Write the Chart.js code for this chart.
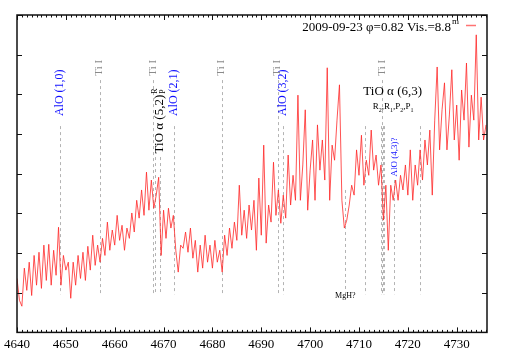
<!DOCTYPE html>
<html>
<head>
<meta charset="utf-8">
<script src="https://cdn.jsdelivr.net/npm/chart.js@4"></script>
<style>
  html, body { margin: 0; padding: 0; background: #fff; }
</style>
</head>
<body>
<canvas id="chart" width="509" height="356"></canvas>
<script>
// wavelength grid (Angstrom) and relative flux
const wavelengths = [
  4640, 4640.5, 4641, 4641.5, 4642, 4642.5, 4643, 4643.5, 4644, 4644.5,
  4645, 4645.5, 4646, 4646.5, 4647, 4647.5, 4648, 4648.5, 4649, 4649.5,
  4650, 4650.5, 4651, 4651.5, 4652, 4652.5, 4653, 4653.5, 4654, 4654.5,
  4655, 4655.5, 4656, 4656.5, 4657, 4657.5, 4658, 4658.5, 4659, 4659.5,
  4660, 4660.5, 4661, 4661.5, 4662, 4662.5, 4663, 4663.5, 4664, 4664.5,
  4665, 4665.5, 4666, 4666.5, 4667, 4667.5, 4668, 4668.5, 4669, 4669.5,
  4670, 4670.5, 4671, 4671.5, 4672, 4672.5, 4673, 4673.5, 4674, 4674.5,
  4675, 4675.5, 4676, 4676.5, 4677, 4677.5, 4678, 4678.5, 4679, 4679.5,
  4680, 4680.5, 4681, 4681.5, 4682, 4682.5, 4683, 4683.5, 4684, 4684.5,
  4685, 4685.5, 4686, 4686.5, 4687, 4687.5, 4688, 4688.5, 4689, 4689.5,
  4690, 4690.5, 4691, 4691.5, 4692, 4692.5, 4693, 4693.5, 4694, 4694.5,
  4695, 4695.5, 4696, 4696.5, 4697, 4697.5, 4698, 4698.5, 4699, 4699.5,
  4700, 4700.5, 4701, 4701.5, 4702, 4702.5, 4703, 4703.5, 4704, 4704.5,
  4705, 4705.5, 4706, 4706.5, 4707, 4707.5, 4708, 4708.5, 4709, 4709.5,
  4710, 4710.5, 4711, 4711.5, 4712, 4712.5, 4713, 4713.5, 4714, 4714.5,
  4715, 4715.5, 4716, 4716.5, 4717, 4717.5, 4718, 4718.5, 4719, 4719.5,
  4720, 4720.5, 4721, 4721.5, 4722, 4722.5, 4723, 4723.5, 4724, 4724.5,
  4725, 4725.5, 4726, 4726.5, 4727, 4727.5, 4728, 4728.5, 4729, 4729.5,
  4730, 4730.5, 4731, 4731.5, 4732, 4732.5, 4733, 4733.5, 4734, 4734.5,
  4735, 4735.5, 4736
];
const flux = [
  1.36, 0.81, 0.66, 1.62, 1.06, 1.77, 0.93, 1.94, 1.19, 2.02,
  1.11, 2.20, 1.31, 2.22, 1.19, 2.07, 1.44, 2.65, 1.19, 1.94,
  1.57, 1.77, 0.86, 1.77, 1.19, 1.94, 1.36, 2.02, 1.31, 2.17,
  1.57, 2.45, 1.69, 2.20, 1.77, 2.37, 1.94, 2.78, 2.07, 2.58,
  2.20, 2.95, 2.32, 2.70, 2.07, 2.63, 2.37, 3.01, 2.53, 3.33,
  2.88, 3.59, 2.95, 4.04, 3.08, 3.84, 3.13, 3.46, 3.91, 1.94,
  3.08, 2.37, 3.13, 2.63, 2.95, 2.07, 1.52, 2.20, 2.12, 2.53,
  2.02, 2.63, 1.87, 2.32, 1.52, 2.20, 1.62, 2.45, 1.77, 2.20,
  1.62, 2.32, 1.77, 2.07, 1.52, 2.45, 1.94, 2.63, 2.12, 2.78,
  2.32, 3.71, 2.45, 3.08, 2.37, 3.21, 2.58, 3.33, 2.07, 3.89,
  2.45, 4.72, 2.25, 3.21, 2.78, 4.29, 2.95, 3.59, 2.75, 3.46,
  2.88, 4.47, 3.21, 3.96, 3.33, 5.98, 3.33, 4.22, 5.61, 3.08,
  4.09, 4.85, 3.33, 5.23, 4.09, 4.85, 3.84, 6.67, 3.33, 4.72,
  4.34, 5.35, 6.24, 3.33, 2.63, 2.83, 3.21, 3.71, 3.46, 4.60,
  3.96, 4.97, 3.71, 4.34, 3.96, 5.10, 4.09, 4.47, 3.71, 4.22,
  2.83, 3.71, 2.07, 3.71, 3.33, 3.84, 3.33, 3.96, 3.59, 4.22,
  3.46, 4.60, 3.33, 4.22, 3.71, 4.60, 3.84, 4.85, 4.22, 5.10,
  3.46, 5.35, 6.69, 4.60, 5.61, 6.29, 4.60, 5.48, 6.62, 4.85,
  5.73, 4.34, 6.11, 5.35, 6.79, 4.67, 5.98, 5.35, 7.50, 4.85,
  5.93, 4.85, 5.23
];
const xTicks = [4640, 4650, 4660, 4670, 4680, 4690, 4700, 4710, 4720, 4730];
const yTicks = [0, 1, 2, 3, 4, 5, 6, 7, 8];
const seriesLabel = '2009-09-23 φ=0.82 Vis.=8.8';

// line identifications: wavelength and top of the marker (flux units)
const lineWaves = [4648.8, 4656.9, 4667.9, 4668.3, 4669.3, 4672.2, 4681.9, 4693.5, 4694.5,
                   4707.2, 4711.3, 4714.5, 4714.7, 4714.9, 4715.1, 4717.2, 4722.5];
const lineTops  = [5.2, 6.36, 6.36, 4.42, 4.42, 5.2, 6.36, 6.36, 5.2,
                   3.59, 5.2, 5.2, 6.36, 5.2, 5.2, 3.84, 5.2];
const lineBottom = 0.96;

const serif = '"Liberation Serif", "DejaVu Serif", serif';
const blue = '#1010ff';
const grey = '#8a8a8a';

// labels: text, wavelength, flux level of centre, rotated?, colour, size
const idLabels = [
  { text: 'AlO (1,0)', wave: 4648.8, level: 6.04, rot: true, color: blue, size: 12 },
  { text: 'AlO (2,1)', wave: 4672.2, level: 6.04, rot: true, color: blue, size: 12 },
  { text: 'AlO (3,2)', wave: 4694.4, level: 6.04, rot: true, color: blue, size: 12 },
  { text: 'Ti I', wave: 4656.8, level: 6.67, rot: true, color: grey, size: 11 },
  { text: 'Ti I', wave: 4667.8, level: 6.67, rot: true, color: grey, size: 11 },
  { text: 'Ti I', wave: 4681.8, level: 6.67, rot: true, color: grey, size: 11 },
  { text: 'Ti I', wave: 4693.2, level: 6.67, rot: true, color: grey, size: 11 },
  { text: 'Ti I', wave: 4714.7, level: 6.67, rot: true, color: grey, size: 11 },
  { text: 'AlO (4,3)?', wave: 4717.2, level: 4.42, rot: true, color: blue, size: 9 },
  { text: 'TiO α (6,3)', wave: 4716.9, level: 6.06, rot: false, color: '#000', size: 13 },
  { text: 'MgH?', wave: 4707.2, level: 0.93, rot: false, color: '#000', size: 8 }
];

function drawParts(ctx, parts, x, y) {
  // parts: [text, size, dy]; drawn left to right, centred on x
  let total = 0;
  parts.forEach(p => { ctx.font = p[1] + 'px ' + serif; total += ctx.measureText(p[0]).width; });
  let cx = x - total / 2;
  parts.forEach(p => {
    ctx.font = p[1] + 'px ' + serif;
    ctx.fillText(p[0], cx, y + p[2]);
    cx += ctx.measureText(p[0]).width;
  });
}

const spectrumFrame = {
  id: 'spectrumFrame',
  beforeDatasetsDraw(chart) {
    const { ctx, scales: { x, y } } = chart;
    ctx.save();
    ctx.strokeStyle = '#b4b4b4';
    ctx.lineWidth = 1;
    ctx.setLineDash([3, 3]);
    lineWaves.forEach((w, i) => {
      const px = Math.round(x.getPixelForValue(w)) + 0.5;
      ctx.beginPath();
      ctx.moveTo(px, y.getPixelForValue(lineTops[i]));
      ctx.lineTo(px, y.getPixelForValue(lineBottom));
      ctx.stroke();
    });
    ctx.setLineDash([]);
    ctx.textBaseline = 'middle';
    ctx.textAlign = 'center';
    idLabels.forEach(l => {
      const px = x.getPixelForValue(l.wave);
      const py = y.getPixelForValue(l.level);
      ctx.fillStyle = l.color;
      ctx.font = l.size + 'px ' + serif;
      if (l.rot) {
        ctx.save();
        ctx.translate(px, py);
        ctx.rotate(-Math.PI / 2);
        ctx.fillText(l.text, 0, 0);
        ctx.restore();
      } else {
        ctx.fillText(l.text, px, py);
      }
    });

    // TiO alpha (5,2) with R / P branches
    ctx.fillStyle = '#000';
    ctx.save();
    ctx.translate(x.getPixelForValue(4669.1), y.getPixelForValue(5.25));
    ctx.rotate(-Math.PI / 2);
    ctx.font = '13px ' + serif;
    const w52 = ctx.measureText('TiO α (5,2)').width;
    ctx.fillText('TiO α (5,2)', 0, 0);
    ctx.textAlign = 'left';
    ctx.font = '8px ' + serif;
    ctx.fillText('R', w52 / 2 + 1, -4);
    ctx.fillText('P', w52 / 2 + 1, 4);
    ctx.restore();

    // branches under TiO alpha (6,3)
    ctx.textAlign = 'left';
    drawParts(ctx, [['R', 9, 0], ['2', 6, 3], [',R', 9, 0], ['1', 6, 3], [',P', 9, 0], ['2', 6, 3], [',P', 9, 0], ['1', 6, 3]],
      x.getPixelForValue(4717.0), y.getPixelForValue(5.68));
    ctx.restore();
  },
  afterDraw(chart) {
    const { ctx, chartArea: a, scales: { x, y } } = chart;
    ctx.save();
    ctx.strokeStyle = '#111';
    ctx.lineWidth = 1;
    // minor and major ticks, pointing inward on both sides
    ctx.beginPath();
    for (let v = 4640; v <= 4736; v += 1) {
      const px = Math.round(x.getPixelForValue(v)) + 0.5;
      const len = xTicks.includes(v) ? 5 : 2.5;
      ctx.moveTo(px, a.bottom); ctx.lineTo(px, a.bottom - len);
      ctx.moveTo(px, a.top); ctx.lineTo(px, a.top + len);
    }
    yTicks.forEach(v => {
      const py = Math.round(y.getPixelForValue(v)) + 0.5;
      ctx.moveTo(a.left, py); ctx.lineTo(a.left + 5, py);
      ctx.moveTo(a.right, py); ctx.lineTo(a.right - 5, py);
    });
    ctx.stroke();
    ctx.lineWidth = 1.5;
    ctx.strokeRect(a.left, a.top, a.right - a.left, a.bottom - a.top);

    // key
    ctx.fillStyle = '#000';
    ctx.textBaseline = 'alphabetic';
    ctx.textAlign = 'right';
    ctx.font = '13px ' + serif;
    ctx.fillText(seriesLabel, 451, 31);
    ctx.textAlign = 'left';
    ctx.font = '9px ' + serif;
    ctx.fillText('m', 452, 24);
    ctx.strokeStyle = 'rgba(255,80,80,0.8)';
    ctx.beginPath();
    ctx.moveTo(466, 25.5); ctx.lineTo(476, 25.5);
    ctx.stroke();
    ctx.restore();
  }
};

new Chart(document.getElementById('chart'), {
  type: 'line',
  data: {
    datasets: [{
      label: seriesLabel,
      data: wavelengths.map((w, i) => ({ x: w, y: flux[i] })),
      borderColor: 'rgba(255,40,40,0.8)',
      borderWidth: 1,
      pointRadius: 0,
      tension: 0,
      fill: false
    }]
  },
  options: {
    responsive: false,
    animation: false,
    layout: { padding: { left: 14, right: 22, top: 15, bottom: 0 } },
    plugins: { legend: { display: false }, tooltip: { enabled: false } },
    scales: {
      x: {
        type: 'linear',
        min: 4640,
        max: 4736.2,
        afterBuildTicks: s => { s.ticks = xTicks.map(v => ({ value: v })); },
        grid: { display: false, drawTicks: false },
        border: { display: false },
        ticks: {
          autoSkip: false,
          maxRotation: 0,
          padding: 4,
          color: '#000',
          font: { family: serif, size: 13 },
          callback: v => String(v)
        }
      },
      y: { min: 0, max: 8, display: false }
    }
  },
  plugins: [spectrumFrame]
});
</script>
</body>
</html>
